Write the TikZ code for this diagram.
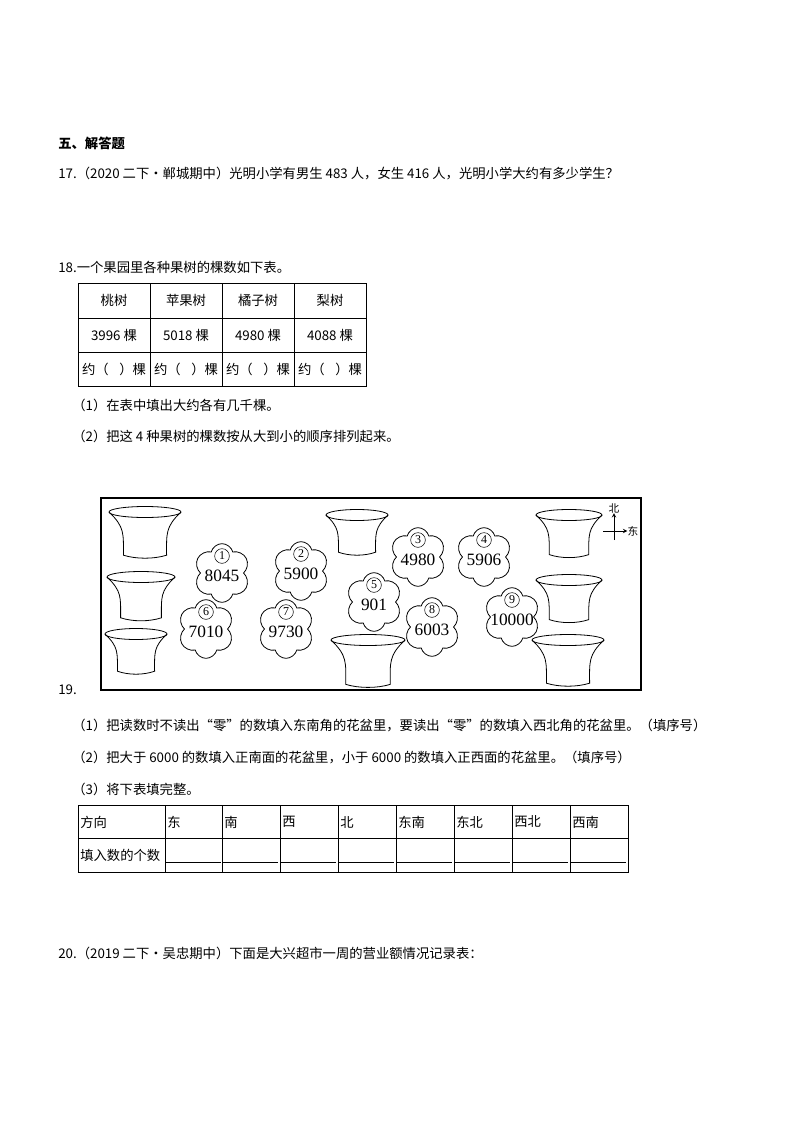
\documentclass[tikz,border=0pt]{standalone}
\usepackage{fontspec}
\setmainfont{Noto Sans CJK SC}
\newfontfamily\numfont{Liberation Serif}
\usetikzlibrary{shapes.symbols}
\begin{document}
\begin{tikzpicture}[x=0.75pt,y=-0.75pt,
  txt/.style={anchor=west,inner sep=0,font=\fontsize{10}{12}\selectfont},
  cell/.style={inner sep=0,font=\fontsize{10}{12}\selectfont},
  flower/.style={cloud,cloud puffs=6,draw,minimum width=42pt,minimum height=44pt,aspect=1,line width=0.6pt},
  num/.style={inner sep=0,font=\numfont\fontsize{13}{14}\selectfont},
  cnum/.style={circle,draw,inner sep=0.5pt,minimum size=11pt,font=\numfont\fontsize{9}{10}\selectfont}]
\useasboundingbox (0,0) rectangle (794,1123);
\node[txt,font=\bfseries\fontsize{10}{12}\selectfont] (h5) at (58,143) {五、解答题};
\node[txt] (q17) at (58,174) {17.（2020 二下·郸城期中）光明小学有男生 483 人，女生 416 人，光明小学大约有多少学生？};
\node[txt] (q18) at (58,267) {18.一个果园里各种果树的棵数如下表。};
% table 1
\draw[line width=0.6pt] (78,283) rectangle (366,386);
\foreach \x in {150,222,294} \draw[line width=0.6pt] (\x,283)--(\x,386);
\foreach \y in {318,352} \draw[line width=0.6pt] (78,\y)--(366,\y);
\foreach \t [count=\i] in {桃树,苹果树,橘子树,梨树} \node[cell] (ta\i) at (42+72*\i,300) {\t};
\foreach \t [count=\i] in {3996 棵,5018 棵,4980 棵,4088 棵} \node[cell] (tb\i) at (42+72*\i,335) {\t};
\foreach \i in {1,2,3,4} \node[cell] (tc\i) at (42+72*\i,369) {约（\hspace{0.8em}）棵};
\node[txt] (p1) at (72,405) {（1）在表中填出大约各有几千棵。};
\node[txt] (p2) at (72,436) {（2）把这 4 种果树的棵数按从大到小的顺序排列起来。};
% picture
\draw[line width=1pt] (101,498) rectangle (641,690);
\foreach \cx/\cy/\w [count=\k] in {145/512/72, 141/577/68, 136/634/62, 357/515/62, 569/515/66, 569/580/66, 568/640/72, 368/640/74} {
  \pgfmathsetmacro\hw{\w/2}
  \pgfmathsetmacro\bw{\w*0.3}
  \pgfmathsetmacro\ht{\w*0.6}
  \draw[line width=0.6pt] (\cx,\cy) ellipse ({\hw*0.75pt} and {5.5*0.75pt});
  \draw[line width=0.6pt] (\cx-\hw,\cy) .. controls (\cx-\hw+\w*0.22,\cy+\ht*0.35) and (\cx-\bw,\cy+\ht*0.5) .. (\cx-\bw,\cy+\ht)
     .. controls (\cx-\bw*0.4,\cy+\ht+4) and (\cx+\bw*0.4,\cy+\ht+4) .. (\cx+\bw,\cy+\ht)
     .. controls (\cx+\bw,\cy+\ht*0.5) and (\cx+\hw-\w*0.22,\cy+\ht*0.35) .. (\cx+\hw,\cy);
}
\foreach \x/\y/\n/\v in {222/568/1/8045, 301/566/2/5900, 418/552/3/4980, 484/552/4/5906, 374/597/5/901, 206/624/6/7010, 286/624/7/9730, 432/622/8/6003, 512/612/9/10000} {
  \node[flower] (f\n) at (\x,\y+5) {};
  \node[cnum,fill=white] (c\n) at (\x,\y-12) {\n};
  \node[num] (v\n) at (\x,\y+8) {\v};
}
\node[inner sep=0,font=\fontsize{8}{9}\selectfont] (bei) at (614,508) {北};
\node[inner sep=0,font=\fontsize{8}{9}\selectfont] (dong) at (633,531) {东};
\draw[-stealth,line width=0.5pt] (614,540)--(bei.south);
\draw[-stealth,line width=0.5pt] (603,531)--(dong.west);
\node[txt] (q19) at (58,690) {19.};
\node[txt] (r1) at (72,725) {（1）把读数时不读出“零”的数填入东南角的花盆里，要读出“零”的数填入西北角的花盆里。（填序号）};
\node[txt] (r2) at (72,757) {（2）把大于 6000 的数填入正南面的花盆里，小于 6000 的数填入正西面的花盆里。（填序号）};
\node[txt] (r3) at (72,789) {（3）将下表填完整。};
% table 2
\draw[line width=0.6pt] (78,805) rectangle (628,872);
\draw[line width=0.6pt] (78,838)--(628,838);
\foreach \x in {165,222,280,338,396,454,512,570} {
  \draw[line width=0.6pt] (\x,805)--(\x,872);
  \draw[line width=0.6pt] (\x+1,862)--(\x+56,862);
}
\node[txt] (d0) at (80,822) {方向};
\foreach \t/\x [count=\i] in {东/165,南/222,西/280,北/338,东南/396,东北/454,西北/512,西南/570} \node[txt] (d\i) at (\x+2,822) {\t};
\node[txt] (e0) at (80,855) {填入数的个数};
\node[txt] (q20) at (58,953) {20.（2019 二下·吴忠期中）下面是大兴超市一周的营业额情况记录表：};
\end{tikzpicture}
\end{document}
